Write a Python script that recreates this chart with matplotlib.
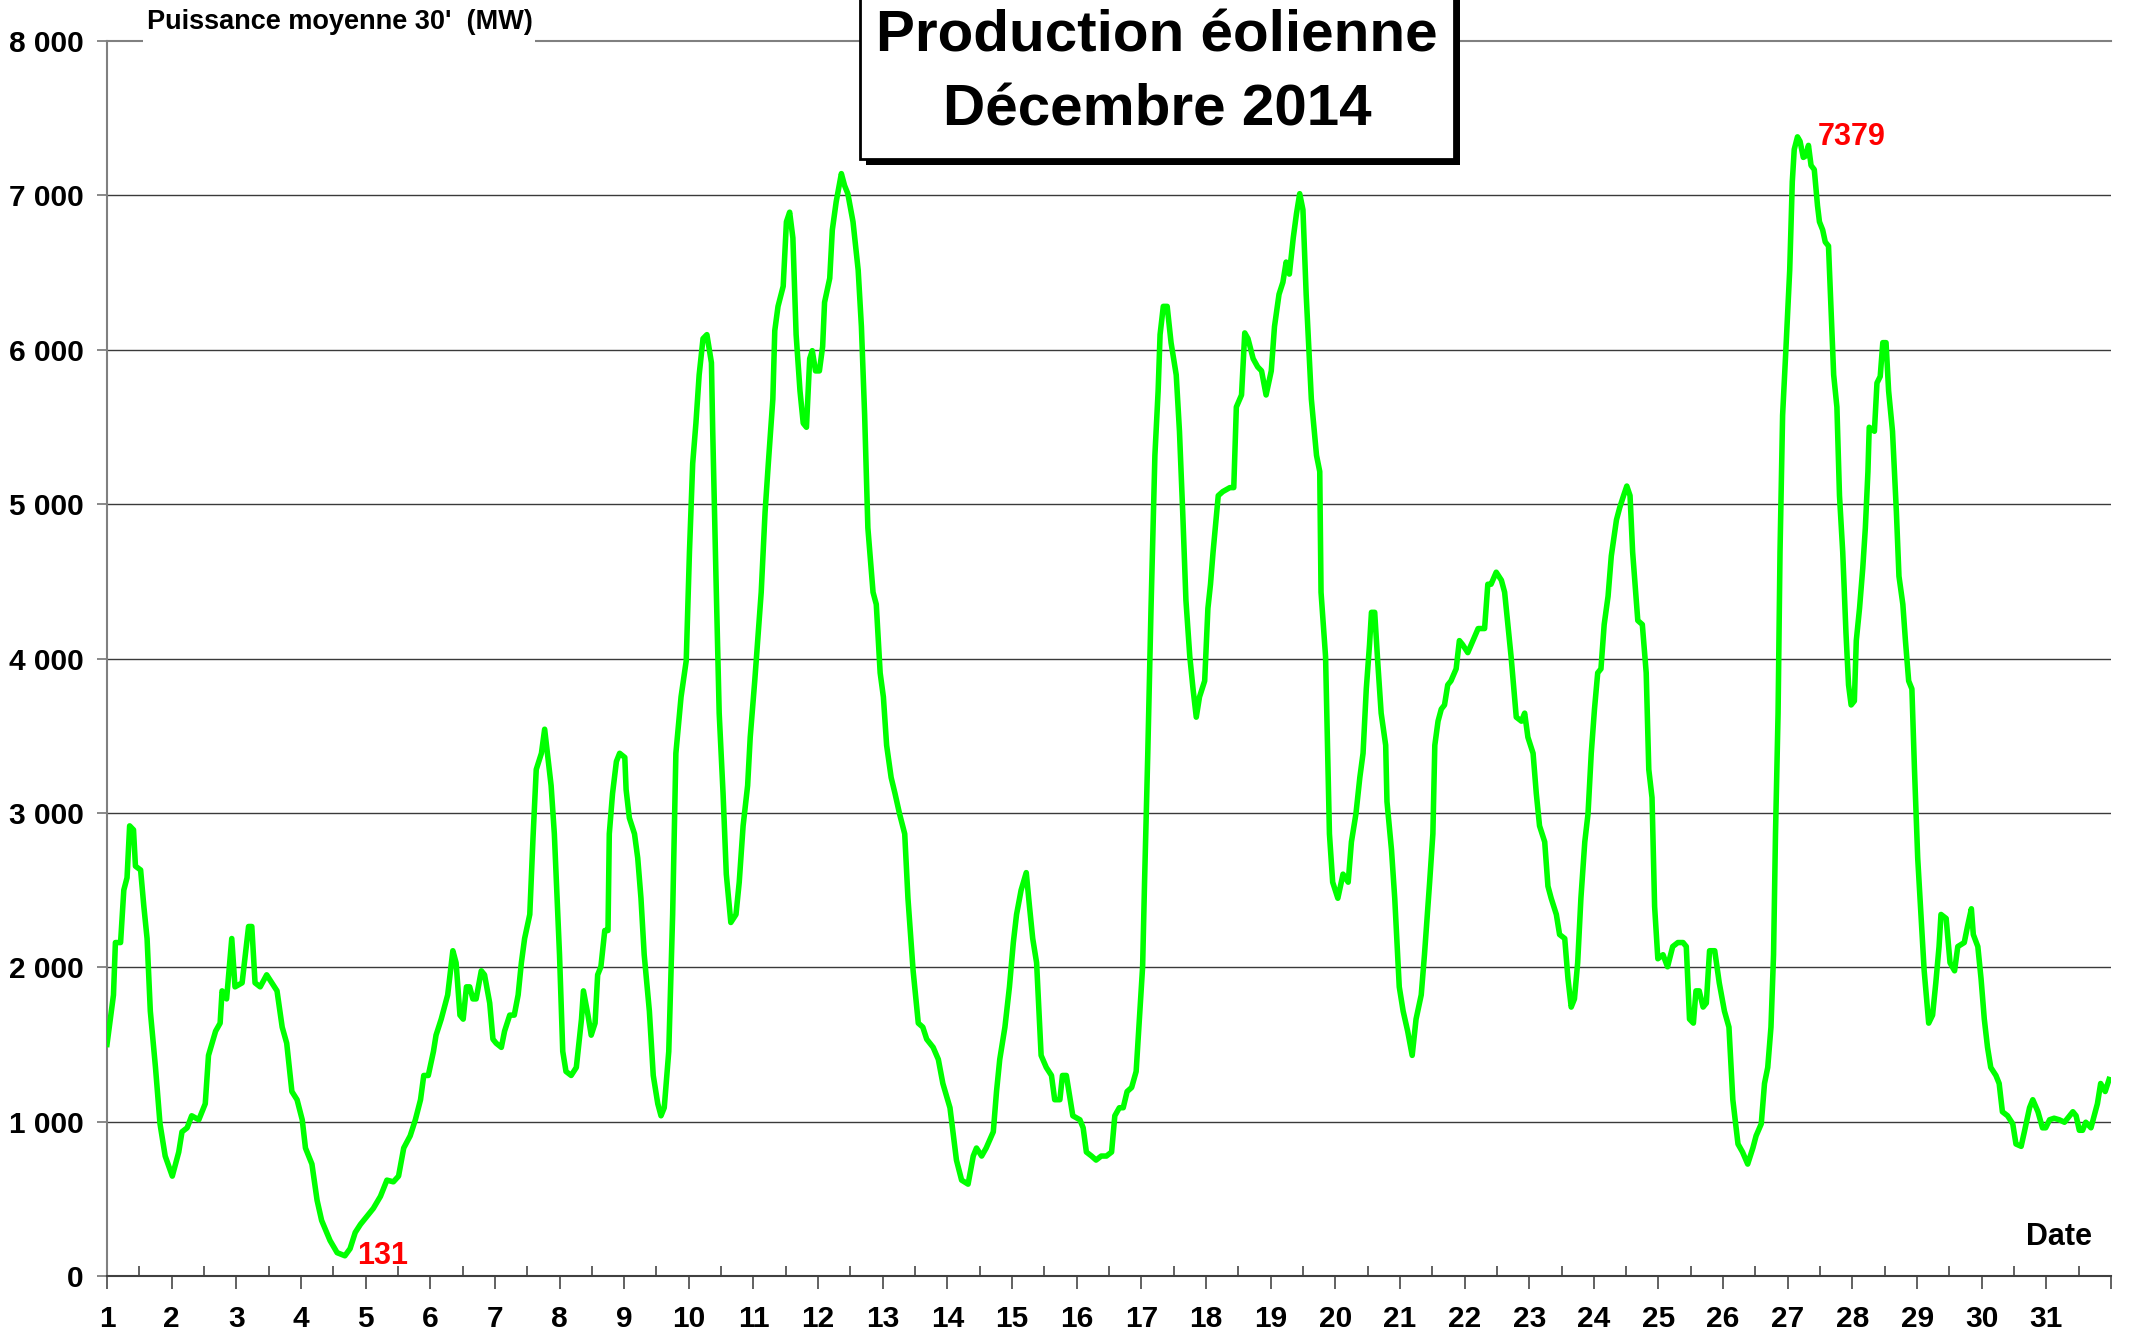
import numpy as np
import matplotlib.pyplot as plt
from matplotlib.patches import Rectangle

plt.rcParams['font.family'] = ['Liberation Sans', 'DejaVu Sans']

"Valeurs lues sur le graphique : jour du mois (decimal) et puissance (MW)"
jours = [1.00, 1.10, 1.13, 1.21, 1.26, 1.31, 1.35, 1.41, 1.44, 1.52, 1.57, 1.62, 1.67, 1.75, 1.82, 1.90,
         2.01, 2.11, 2.16, 2.24, 2.31, 2.42, 2.52, 2.57, 2.68, 2.75, 2.78, 2.85, 2.93, 2.98,
         3.09, 3.19, 3.24, 3.29, 3.37, 3.47, 3.55, 3.63, 3.71, 3.78, 3.86, 3.94,
         4.02, 4.07, 4.17, 4.25, 4.32, 4.45, 4.56, 4.68, 4.76, 4.84, 4.92,
         5.02, 5.12, 5.23, 5.33, 5.43, 5.51, 5.59, 5.69, 5.77, 5.85, 5.90, 5.97,
         6.05, 6.09, 6.17, 6.22, 6.27, 6.35, 6.40, 6.46, 6.51, 6.56, 6.61, 6.66, 6.71, 6.79, 6.84, 6.92, 6.97,
         7.02, 7.10, 7.15, 7.23, 7.30, 7.36, 7.41, 7.46, 7.54, 7.59, 7.64, 7.72, 7.77, 7.82, 7.87, 7.92,
         8.00, 8.05, 8.10, 8.18, 8.26, 8.34, 8.37, 8.44, 8.49, 8.55, 8.59, 8.64, 8.70, 8.75, 8.77, 8.82, 8.88, 8.93,
         9.01, 9.03, 9.08, 9.16, 9.21, 9.26, 9.31, 9.39, 9.45, 9.52, 9.57, 9.62, 9.69, 9.75, 9.80, 9.88, 9.96,
         10.01, 10.06, 10.11, 10.16, 10.22, 10.28, 10.35, 10.37, 10.42, 10.47, 10.53, 10.58, 10.65, 10.73, 10.78,
         10.84, 10.91, 10.95,
         11.02, 11.12, 11.18, 11.23, 11.30, 11.33, 11.38, 11.46, 11.51, 11.56, 11.61, 11.66, 11.72, 11.77, 11.82,
         11.87, 11.91, 11.96,
         12.02, 12.07, 12.10, 12.18, 12.22, 12.28, 12.36, 12.41, 12.46, 12.54, 12.62, 12.67, 12.72, 12.77, 12.85,
         12.90, 12.96,
         13.01, 13.06, 13.13, 13.19, 13.26, 13.34, 13.39, 13.47, 13.55, 13.62, 13.68, 13.78, 13.86, 13.93,
         14.04, 14.14, 14.22, 14.32, 14.40, 14.45, 14.53, 14.60, 14.71, 14.76, 14.81, 14.89, 14.96,
         15.02, 15.07, 15.14, 15.22, 15.27, 15.32, 15.38, 15.45, 15.53, 15.61, 15.66, 15.74, 15.78, 15.84, 15.94,
         16.05, 16.10, 16.15, 16.23, 16.30, 16.38, 16.46, 16.54, 16.59, 16.66, 16.72, 16.78, 16.85, 16.92, 16.97,
         17.02, 17.05, 17.10, 17.15, 17.21, 17.26, 17.29, 17.34, 17.40, 17.46, 17.54, 17.59, 17.64, 17.69, 17.75,
         17.80, 17.85, 17.90, 17.98,
         18.03, 18.07, 18.11, 18.19, 18.26, 18.37, 18.43, 18.47, 18.55, 18.60, 18.65, 18.73, 18.80, 18.86, 18.93,
         19.01, 19.06, 19.13, 19.19, 19.24, 19.29, 19.35, 19.40, 19.45, 19.50, 19.55, 19.63, 19.71, 19.76, 19.78,
         19.85, 19.91, 19.96,
         20.04, 20.12, 20.20, 20.25, 20.32, 20.38, 20.43, 20.48, 20.53, 20.56, 20.61, 20.66, 20.71, 20.78, 20.80,
         20.87, 20.92, 20.99,
         21.05, 21.12, 21.19, 21.25, 21.33, 21.38, 21.46, 21.51, 21.54, 21.59, 21.64, 21.69, 21.74, 21.79, 21.87,
         21.92, 21.97,
         22.05, 22.13, 22.21, 22.31, 22.36, 22.41, 22.49, 22.57, 22.62, 22.67, 22.72, 22.80, 22.88, 22.93, 22.98,
         23.06, 23.11, 23.16, 23.24, 23.29, 23.34, 23.42, 23.47, 23.55, 23.60, 23.65, 23.70, 23.75, 23.80, 23.86,
         23.91, 23.96,
         24.01, 24.06, 24.11, 24.16, 24.22, 24.27, 24.35, 24.40, 24.46, 24.51, 24.56, 24.60, 24.68, 24.75, 24.81,
         24.85, 24.90, 24.94, 24.99,
         25.07, 25.14, 25.22, 25.30, 25.38, 25.43, 25.48, 25.54, 25.58, 25.63, 25.69, 25.74, 25.79, 25.87, 25.94,
         26.02, 26.09, 26.15, 26.23, 26.30, 26.38, 26.46, 26.51, 26.59, 26.64, 26.69, 26.74, 26.78, 26.81, 26.85,
         26.88, 26.92, 26.97,
         27.03, 27.07, 27.10, 27.15, 27.19, 27.24, 27.28, 27.32, 27.36, 27.41, 27.46, 27.49, 27.54, 27.58, 27.63,
         27.67, 27.71, 27.76, 27.80, 27.85, 27.90, 27.94, 27.98,
         28.03, 28.06, 28.11, 28.16, 28.20, 28.24, 28.26, 28.34, 28.38, 28.43, 28.47, 28.52, 28.56, 28.62, 28.68,
         28.72, 28.78, 28.82, 28.87, 28.92, 28.96,
         29.01, 29.06, 29.11, 29.18, 29.24, 29.29, 29.34, 29.37, 29.45, 29.51, 29.58, 29.63, 29.73, 29.78, 29.84,
         29.87, 29.94, 29.99,
         30.04, 30.09, 30.14, 30.22, 30.27, 30.32, 30.40, 30.48, 30.53, 30.61, 30.66, 30.74, 30.79, 30.87, 30.94,
         30.99,
         31.05, 31.12, 31.20, 31.28, 31.36, 31.41, 31.46, 31.51, 31.56, 31.61, 31.69, 31.74, 31.79, 31.84, 31.91,
         31.97]
puissance = [1500, 1820, 2160, 2160, 2500, 2580, 2916, 2890, 2655, 2630, 2394, 2186, 1716, 1351, 986, 777,
             647, 803, 934, 960, 1038, 1012, 1116, 1429, 1586, 1638, 1847, 1795, 2186, 1873,
             1899, 2264, 2264, 1899, 1873, 1951, 1899, 1847, 1612, 1508, 1195, 1142,
             1012, 829, 725, 490, 360, 230, 151, 131, 177, 282, 334,
             386, 438, 516, 621, 610, 647, 829, 908, 1012, 1142, 1299, 1299,
             1455, 1560, 1664, 1742, 1821, 2107, 2029, 1690, 1664, 1873, 1873, 1795, 1795, 1977, 1951, 1768, 1534,
             1508, 1481, 1586, 1690, 1690, 1821, 2029, 2186, 2342, 2838, 3281, 3386, 3542, 3359, 3177, 2864,
             2081, 1455, 1325, 1299, 1351, 1664, 1847, 1690, 1560, 1638, 1951, 2003, 2238, 2238, 2864, 3125, 3333, 3386,
             3359, 3151, 2968, 2864, 2707, 2447, 2081, 1716, 1299, 1116, 1038, 1090, 1455, 2342, 3386, 3751, 3985,
             4690, 5263, 5524, 5837, 6072, 6098, 5916, 5472, 4533, 3646, 3125, 2603, 2290, 2342, 2551,
             2916, 3177, 3490,
             3855, 4429, 4950, 5263, 5681, 6124, 6281, 6411, 6829, 6891, 6724, 6098, 5733, 5524, 5498,
             5942, 5994, 5863,
             5863, 6020, 6307, 6463, 6776, 6959, 7141, 7063, 7011, 6829, 6516, 6150, 5576, 4846, 4429,
             4351, 3907,
             3751, 3438, 3229, 3125, 2994, 2864, 2447, 1977, 1638, 1612, 1534, 1481, 1403, 1247,
             1090, 751, 621, 595, 777, 829, 777, 829, 934, 1195, 1403, 1612, 1873,
             2160, 2342, 2499, 2613, 2394, 2186, 2029, 1429, 1351, 1299, 1142, 1142, 1299, 1299, 1038,
             1012, 960, 803, 777, 751, 777, 777, 803, 1038, 1090, 1090, 1195, 1221, 1325, 1664,
             2003, 2551, 3386, 4325, 5316, 5733, 6098, 6281, 6281, 6046, 5837, 5472, 4950, 4377, 4012,
             3803, 3620, 3751, 3855,
             4325, 4481, 4690, 5055, 5081, 5107, 5107, 5629, 5707, 6109, 6072, 5942, 5889, 5863, 5707,
             5863, 6150, 6359, 6437, 6568, 6490, 6724, 6881, 7011, 6907, 6359, 5681, 5316, 5211, 4429,
             4012, 2864, 2551,
             2447, 2603, 2551, 2812, 2994, 3229, 3386, 3803, 4090, 4299, 4299, 3959, 3646, 3438, 3073,
             2760, 2447, 1873,
             1716, 1586, 1429, 1664, 1821, 2081, 2551, 2864, 3438, 3594, 3672, 3699, 3829, 3855, 3933,
             4116, 4090,
             4038, 4116, 4194, 4194, 4481, 4481, 4559, 4507, 4429, 4220, 4012, 3620, 3594, 3646, 3490,
             3386, 3125, 2916, 2812, 2525, 2447, 2342, 2212, 2186, 1925, 1742, 1795, 2029, 2447, 2812,
             2994, 3386,
             3672, 3907, 3933, 4220, 4403, 4664, 4898, 4977, 5055, 5117, 5055, 4690, 4246, 4220, 3907,
             3281, 3099, 2394, 2055,
             2081, 2003, 2134, 2160, 2160, 2134, 1664, 1638, 1847, 1847, 1742, 1768, 2107, 2107, 1899,
             1716, 1612, 1142, 855, 803, 725, 829, 908, 986, 1247, 1351, 1612, 2081, 2864, 3646,
             4690, 5576, 5994,
             6516, 7089, 7298, 7379, 7350, 7246, 7256, 7324, 7194, 7167, 6933, 6829, 6776, 6698, 6672,
             6255, 5837, 5629, 5055, 4690, 4168, 3829, 3699,
             3725, 4116, 4325, 4585, 4846, 5211, 5498, 5472, 5785, 5827, 6046, 6046, 5733, 5472, 4950,
             4533, 4351, 4116, 3855, 3803, 3281,
             2707, 2342, 1977, 1638, 1690, 1899, 2134, 2342, 2316, 2029, 1977, 2134, 2160, 2264, 2379,
             2212, 2134, 1925,
             1664, 1481, 1351, 1299, 1247, 1064, 1038, 986, 855, 840, 934, 1090, 1142, 1064, 960,
             960,
             1012, 1022, 1012, 996, 1038, 1064, 1038, 944, 944, 996, 960, 1038, 1116, 1247, 1195,
             1273]

y_ticks = [0, 1000, 2000, 3000, 4000, 5000, 6000, 7000, 8000]
y_labels = ['0', '1 000', '2 000', '3 000', '4 000', '5 000', '6 000', '7 000', '8 000']
x_ticks = list(range(1, 33))
x_labels = [str(j) for j in range(1, 32)] + ['']

i_min = int(np.argmin(puissance))
i_max = int(np.argmax(puissance))

W, H = 2129, 1337
fig = plt.figure(figsize=(W / 100, H / 100), dpi=100)
ax = fig.add_axes([107 / W, 1 - 1276 / H, (2111 - 107) / W, (1276 - 41) / H])

for v in y_ticks[1:-1]:
    ax.axhline(v, color='#3a3a3a', lw=1.0, zorder=1)

ax.plot(jours, puissance, color='#00ff00', lw=4.0, solid_joinstyle='round', zorder=3)

ax.set_xlim(1, 32)
ax.set_ylim(0, 8000)

ax.set_yticks(y_ticks, y_labels, fontsize=21.5, fontweight='bold')
ax.set_xticks(x_ticks, x_labels, fontsize=21.5, fontweight='bold')
ax.set_xticks(np.arange(1.5, 32, 1), minor=True)
ax.tick_params(axis='y', direction='out', length=7, width=1.3, color='#808080', pad=10)
ax.tick_params(axis='x', which='major', direction='out', length=9, width=1.3, color='#555555', pad=12)
ax.tick_params(axis='x', which='minor', direction='in', length=7, width=1.3, color='#555555')

ax.spines['right'].set_visible(False)
ax.spines['left'].set_color('#808080')
ax.spines['top'].set_color('#808080')
ax.spines['bottom'].set_color('#404040')
for s in ['left', 'top', 'bottom']:
    ax.spines[s].set_linewidth(1.5)

"Valeurs extremes"
ax.text(jours[i_min] + 0.19, puissance[i_min], str(puissance[i_min]), color='red', fontsize=22,
        fontweight='bold', ha='left', va='center', zorder=4)
ax.text(jours[i_max] + 0.31, puissance[i_max], str(puissance[i_max]), color='red', fontsize=22,
        fontweight='bold', ha='left', va='center', zorder=4)
ax.text(30.69, 250, 'Date', fontsize=22, fontweight='bold', ha='left', va='center')

"Titre de l'axe Y (masque la ligne du haut)"
fig.add_artist(Rectangle((143 / W, 1 - 55 / H), 392 / W, 55 / H, transform=fig.transFigure,
                         facecolor='white', edgecolor='none', zorder=2))
fig.text(147 / W, 1 - 22 / H, "Puissance moyenne 30'  (MW)", fontsize=19.5, fontweight='bold',
         ha='left', va='center', zorder=3)

"Cadre du titre avec ombre"
fig.add_artist(Rectangle((866 / W, 1 - 165 / H), 594 / W, 200 / H, transform=fig.transFigure,
                         facecolor='black', edgecolor='none', zorder=4))
fig.add_artist(Rectangle((860 / W, 1 - 159 / H), 594 / W, 200 / H, transform=fig.transFigure,
                         facecolor='white', edgecolor='black', lw=2, zorder=5))
fig.text(1157 / W, 1 - 51 / H, 'Production éolienne', fontsize=42, fontweight='bold',
         ha='center', va='baseline', zorder=6)
fig.text(1157 / W, 1 - 126 / H, 'Décembre 2014', fontsize=42, fontweight='bold',
         ha='center', va='baseline', zorder=6)

fig.savefig('out.png', dpi=100)
